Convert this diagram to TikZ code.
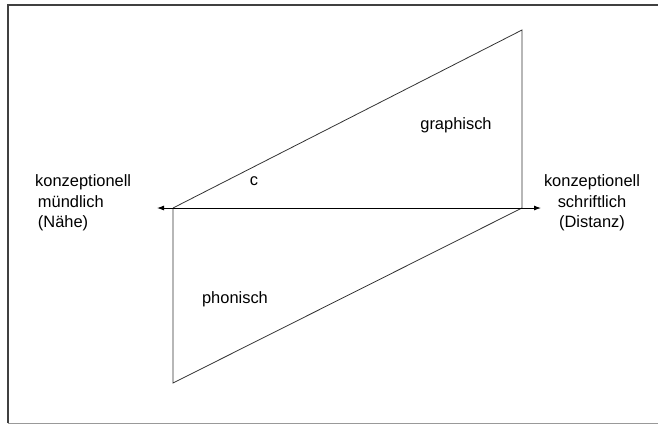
\documentclass[tikz,border=0pt]{standalone}
\usepackage{fontspec}
\setmainfont{Liberation Sans}
\usetikzlibrary{arrows.meta}
\begin{document}
\begin{tikzpicture}[x=1bp,y=-1bp,
  edge/.style={draw=black!80, line width=0.8bp},
  lbl/.style={inner sep=0pt, font=\fontsize{16.5}{20.5}\selectfont}]
\useasboundingbox (0,0) rectangle (658,424);
\draw[black!75, line width=1.6bp] (8,423) -- (8,5) -- (658,5);
\draw[black!40, line width=1bp] (8,423) -- (658,423);
\coordinate (L) at (173,208);
\coordinate (R) at (522,208);
\coordinate (T) at (522,30);
\coordinate (B) at (173,383);
\coordinate (AL) at (157,208);
\coordinate (AR) at (541,208);
\draw[edge] (L) -- (T) -- (R);
\draw[edge] (L) -- (B) -- (R);
\draw[black, line width=0.9bp, {Latex[length=7bp,width=5bp]}-{Latex[length=7bp,width=5bp]}] (AL) -- (AR);
\node[lbl, align=left, anchor=west] (ml) at (35,203) {konzeptionell\\\,mündlich\\\,(Nähe)};
\node[lbl, align=center] (sl) at (592,203) {konzeptionell\\schriftlich\\(Distanz)};
\node[lbl] (gr) at (456,125) {graphisch};
\node[lbl] (c) at (254,181) {c};
\node[lbl] (ph) at (235,299) {phonisch};
\end{tikzpicture}
\end{document}
